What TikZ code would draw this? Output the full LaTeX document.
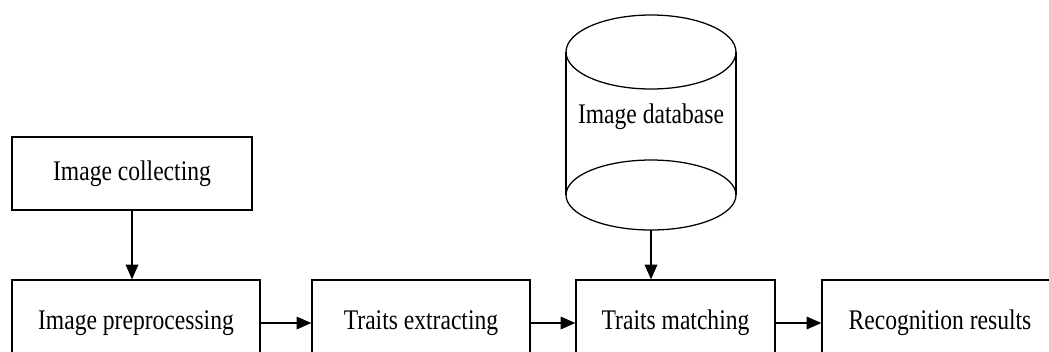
\documentclass[tikz,border=0pt]{standalone}
\usepackage{fontspec}
\setmainfont[FakeStretch=0.83]{Liberation Serif}
\usepackage{tikz}
\usetikzlibrary{calc,arrows.meta}
\def\stepnode{\node[draw=black,rectangle,minimum height=2.15cm,inner sep=0pt]}
\def\drawflow{\draw[-{Triangle[length=10.5pt,width=9pt]}]}

\begin{document}
\begin{tikzpicture}[x=0.025cm,y=-0.025cm,line width=0.9pt,font=\fontsize{20.2}{24}\selectfont]
\useasboundingbox (0,0) rectangle (1049,351);
\clip (0,0) rectangle (1049,351);

% Acquisition box on top
\node[draw=black,minimum width=6cm,minimum height=1.825cm] (collect) at (132,173.5) {Image collecting};

% Main row, cut by the lower edge
\coordinate (row) at (0,323); % row boxes are placed relative to (row)
\stepnode[minimum width=6.2cm] (preproc) at ($ (row) + (136,0) $) {Image preprocessing};
\stepnode[minimum width=5.45cm] (extract) at ($ (row) + (421,0) $) {Traits extracting};
\stepnode[minimum width=4.975cm] (match) at ($ (row) + (675.5,0) $) {Traits matching};
\stepnode[minimum width=5.9cm] (result) at ($ (row) + (940,0) $) {Recognition results};

% Database cylinder
\coordinate (db_top) at (651,52);
\coordinate (db_bot) at (651,195);
\draw (db_top) ellipse [x radius=85, y radius=37];
\draw (db_bot) ellipse [x radius=85, y radius=35];
\draw ($ (db_top) - (85,0) $) to ($ (db_bot) - (85,0) $);
\draw ($ (db_top) + (85,0) $) to ($ (db_bot) + (85,0) $);
\node (db) at (651,117) {Image database};
\coordinate (db_base) at ($ (db_bot) + (0,35) $);

% Flow arrows
\drawflow (collect.south) to (collect.south |- preproc.north);
\drawflow (preproc) to (extract);
\drawflow (extract) to (match);
\drawflow (match) to (result);
\drawflow (db_base) to (db_base |- match.north);
\end{tikzpicture}
\end{document}
